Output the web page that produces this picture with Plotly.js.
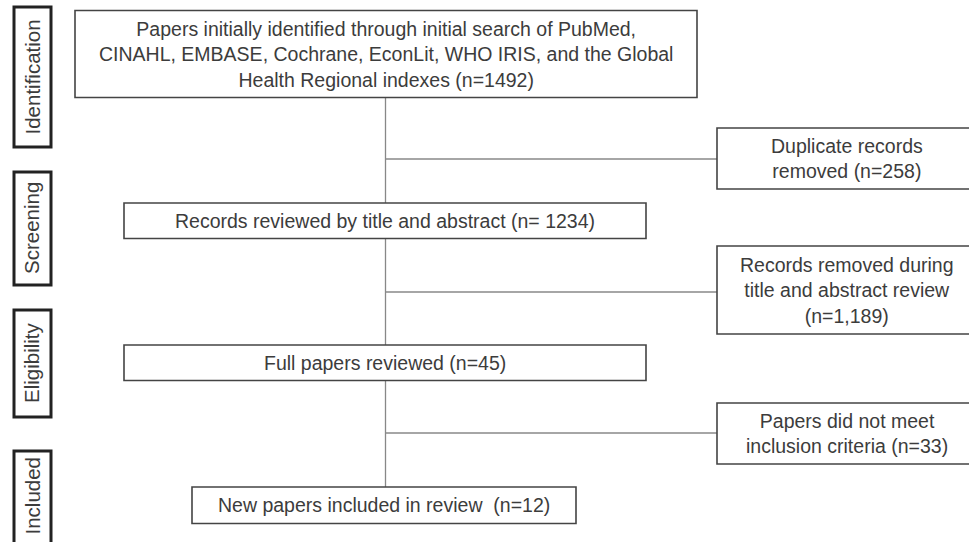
<!DOCTYPE html>
<html>
<head>
<meta charset="utf-8">
<script src="https://cdn.plot.ly/plotly-3.0.1.min.js"></script>
<style>
  html, body { margin: 0; padding: 0; background: #fff; }
  #chart { width: 969px; height: 542px; }
</style>
</head>
<body>
<div id="chart"></div>
<script>
(function () {
    // Données du diagramme (PRISMA)
    const stages = ['Identification', 'Screening', 'Eligibility', 'Included'];

    const mainSteps = [
        'Papers initially identified through initial search of PubMed,<br>CINAHL, EMBASE, Cochrane, EconLit, WHO IRIS, and the Global<br>Health Regional indexes',
        'Records reviewed by title and abstract',
        'Full papers reviewed',
        'New papers included in review '
    ];
    const mainCounts = [1492, 1234, 45, 12];
    const mainCountPrefix = ['(n=', '(n= ', '(n=', '(n='];

    const exclusions = [
        'Duplicate records<br>removed',
        'Records removed during<br>title and abstract review<br>',
        'Papers did not meet<br>inclusion criteria'
    ];
    const exclCounts = [258, 1189, 33];

    // Mise en page (pixels, axe y inversé)
    const W = 969, H = 542;
    const stageX = [14, 51];
    const stageY = [[7, 147], [172, 285], [310, 417], [451, 546]];
    const mainBox = [[75, 697, 10.5, 97.5], [124, 646, 203, 238.5], [124, 646, 345, 380.5], [192, 576, 487, 523.5]];
    const spineX = 385.5;
    const exclX = [717, 976];
    const exclY = [[128, 189], [246, 334], [403, 464]];
    const exclLineY = [159, 292, 433];

    const textColor = '#3c3c3c';
    const fontFam = '"Liberation Sans", Arial, sans-serif';

    const shapes = [];
    const annotations = [];

    // Étiquettes des étapes (boîtes verticales)
    stages.forEach(function (s, i) {
        shapes.push({
            type: 'rect', xref: 'x', yref: 'y',
            x0: stageX[0], x1: stageX[1], y0: stageY[i][0], y1: stageY[i][1],
            line: { color: '#222', width: 3 }, fillcolor: 'rgba(0,0,0,0)'
        });
        annotations.push({
            x: (stageX[0] + stageX[1]) / 2 - 1, y: (stageY[i][0] + Math.min(stageY[i][1], 541)) / 2,
            xref: 'x', yref: 'y', text: s, textangle: -90, showarrow: false,
            font: { family: fontFam, size: 20.5, color: textColor }
        });
    });

    // Ligne verticale principale
    shapes.push({
        type: 'line', xref: 'x', yref: 'y',
        x0: spineX, x1: spineX, y0: mainBox[0][3], y1: mainBox[3][2],
        line: { color: '#888', width: 1.3 }
    });

    // Boîtes principales
    mainSteps.forEach(function (t, i) {
        const b = mainBox[i];
        shapes.push({
            type: 'rect', xref: 'x', yref: 'y',
            x0: b[0], x1: b[1], y0: b[2], y1: b[3],
            line: { color: '#444', width: 1.6 }, fillcolor: '#fff'
        });
        annotations.push({
            x: (b[0] + b[1]) / 2, y: (b[2] + b[3]) / 2,
            xref: 'x', yref: 'y', showarrow: false,
            text: t + ' ' + mainCountPrefix[i] + mainCounts[i] + ')',
            font: { family: fontFam, size: 19.5, color: textColor }
        });
    });

    // Exclusions
    exclusions.forEach(function (t, i) {
        const sep = t.endsWith('<br>') ? '' : ' ';
        shapes.push({
            type: 'line', xref: 'x', yref: 'y',
            x0: spineX, x1: exclX[0], y0: exclLineY[i], y1: exclLineY[i],
            line: { color: '#888', width: 1.3 }
        });
        shapes.push({
            type: 'rect', xref: 'x', yref: 'y',
            x0: exclX[0], x1: exclX[1], y0: exclY[i][0], y1: exclY[i][1],
            line: { color: '#444', width: 1.6 }, fillcolor: '#fff'
        });
        annotations.push({
            x: (exclX[0] + exclX[1]) / 2, y: (exclY[i][0] + exclY[i][1]) / 2,
            xref: 'x', yref: 'y', showarrow: false,
            text: t + sep + '(n=' + exclCounts[i].toLocaleString('en-US') + ')',
            font: { family: fontFam, size: 19.5, color: textColor }
        });
    });

    const trace = { x: [0, W], y: [0, H], mode: 'markers', marker: { opacity: 0 }, hoverinfo: 'skip' };

    const layout = {
        width: W, height: H,
        margin: { l: 0, r: 0, t: 0, b: 0 },
        paper_bgcolor: '#fff', plot_bgcolor: '#fff',
        showlegend: false,
        xaxis: { range: [0, W], visible: false, fixedrange: true },
        yaxis: { range: [H, 0], visible: false, fixedrange: true },
        shapes: shapes,
        annotations: annotations
    };

    Plotly.newPlot('chart', [trace], layout, { displayModeBar: false, staticPlot: true });
})();
</script>
</body>
</html>
